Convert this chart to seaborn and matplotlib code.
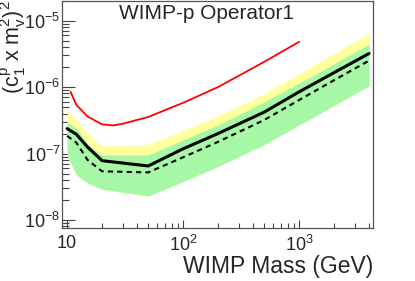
import numpy as np
import pandas as pd
import matplotlib
matplotlib.use("Agg")
import matplotlib.pyplot as plt
import seaborn as sns
from matplotlib.ticker import LogLocator, FixedLocator, FixedFormatter, NullFormatter

# ---- data ----
mass = [10, 12, 15, 20, 50, 100, 200, 500, 1000, 2000, 4000]
observed = [2.37e-7, 1.95e-7, 1.25e-7, 7.8e-8, 6.5e-8, 1.18e-7, 2.0e-7, 4.2e-7, 8.5e-7, 1.65e-6, 3.2e-6]
expected = [1.84e-7, 1.46e-7, 8.0e-8, 5.4e-8, 5.2e-8, 8.8e-8, 1.5e-7, 3.2e-7, 6.4e-7, 1.27e-6, 2.5e-6]
green_lo = [9.2e-8, 4.8e-8, 3.6e-8, 2.9e-8, 2.3e-8, 3.8e-8, 6.4e-8, 1.37e-7, 2.7e-7, 5.3e-7, 1.05e-6]
green_hi = [2.9e-7, 2.45e-7, 1.4e-7, 9.5e-8, 9.5e-8, 1.6e-7, 2.7e-7, 6.0e-7, 1.15e-6, 2.25e-6, 4.4e-6]
yellow_hi = [4.6e-7, 3.3e-7, 2.0e-7, 1.3e-7, 1.38e-7, 2.2e-7, 3.7e-7, 7.9e-7, 1.6e-6, 3.2e-6, 6.5e-6]

red_mass = [10.7, 12, 15, 20, 25, 30, 50, 100, 200, 500, 1000]
red_limit = [8.5e-7, 5.4e-7, 3.6e-7, 2.75e-7, 2.65e-7, 2.8e-7, 3.55e-7, 5.8e-7, 1.0e-6, 2.4e-6, 4.8e-6]

xticks = [10, 100, 1000]
xticklabels = ["10", "$10^{2}$", "$10^{3}$"]
yticks = [1e-8, 1e-7, 1e-6, 1e-5]
yticklabels = ["$10^{-8}$", "$10^{-7}$", "$10^{-6}$", "$10^{-5}$"]

sns.set_theme(style="white")
plt.rcParams["font.family"] = ["Liberation Sans", "DejaVu Sans"]
plt.rcParams["mathtext.fontset"] = "custom"
plt.rcParams["mathtext.rm"] = "Liberation Sans"
plt.rcParams["mathtext.it"] = "Liberation Sans"
plt.rcParams["mathtext.default"] = "regular"

fig = plt.figure(figsize=(4.15, 2.81), dpi=100)
ax = fig.add_axes([0.149, 0.1875, 0.7506, 0.8105])

ax.fill_between(mass, green_lo, yellow_hi, color="#ffff9e", lw=0, zorder=1)
ax.fill_between(mass, green_lo, green_hi, color="#a6f7a6", lw=0, zorder=2)

df_obs = pd.DataFrame({"m": mass, "v": observed})
df_exp = pd.DataFrame({"m": mass, "v": expected})
df_red = pd.DataFrame({"m": red_mass, "v": red_limit})
sns.lineplot(data=df_red, x="m", y="v", ax=ax, color="#ff0000", lw=1.3, zorder=4)
sns.lineplot(data=df_exp, x="m", y="v", ax=ax, color="black", lw=1.5,
             linestyle=(0, (2.5, 2.0)), zorder=3)
sns.lineplot(data=df_obs, x="m", y="v", ax=ax, color="black", lw=2.2, zorder=5)

ax.set_xscale("log")
ax.set_yscale("log")
ax.set_xlim(9.0, 4350)
ax.set_ylim(7.5e-9, 2.0e-5)

ax.xaxis.set_major_locator(FixedLocator(xticks))
ax.xaxis.set_major_formatter(FixedFormatter(xticklabels))
ax.xaxis.set_minor_locator(LogLocator(base=10, subs=np.arange(2, 10)))
ax.xaxis.set_minor_formatter(NullFormatter())
ax.yaxis.set_major_locator(FixedLocator(yticks))
ax.yaxis.set_major_formatter(FixedFormatter(yticklabels))
ax.yaxis.set_minor_locator(LogLocator(base=10, subs=np.arange(2, 10)))
ax.yaxis.set_minor_formatter(NullFormatter())

ax.tick_params(axis="both", which="both", direction="in", color="#444444",
               top=False, right=False, bottom=True, left=True)
ax.tick_params(axis="x", which="major", length=6, width=0.8, labelsize=13, pad=5)
ax.tick_params(axis="x", which="minor", length=3.5, width=0.8)
ax.tick_params(axis="y", which="major", length=9, width=0.8, labelsize=13, pad=1)
ax.tick_params(axis="y", which="minor", length=5, width=0.8)

for s in ax.spines.values():
    s.set_color("#555555")
    s.set_linewidth(0.9)

ax.set_xlabel("")
ax.set_ylabel("")
fig.text(0.899, 0.01, "WIMP Mass (GeV)", ha="right", va="bottom", fontsize=16.5)
fig.text(0.032, 0.998,
         r"$(\mathrm{c}_{1}^{\mathrm{p}}\ \mathrm{x}\ \mathrm{m}_{\mathrm{v}}^{2})^{2}$",
         rotation=90, ha="center", va="top", fontsize=15.5)
ax.text(0.466, 0.943, "WIMP-p Operator1", transform=ax.transAxes,
        ha="center", va="center", fontsize=15)

fig.savefig("out.png", dpi=100)
